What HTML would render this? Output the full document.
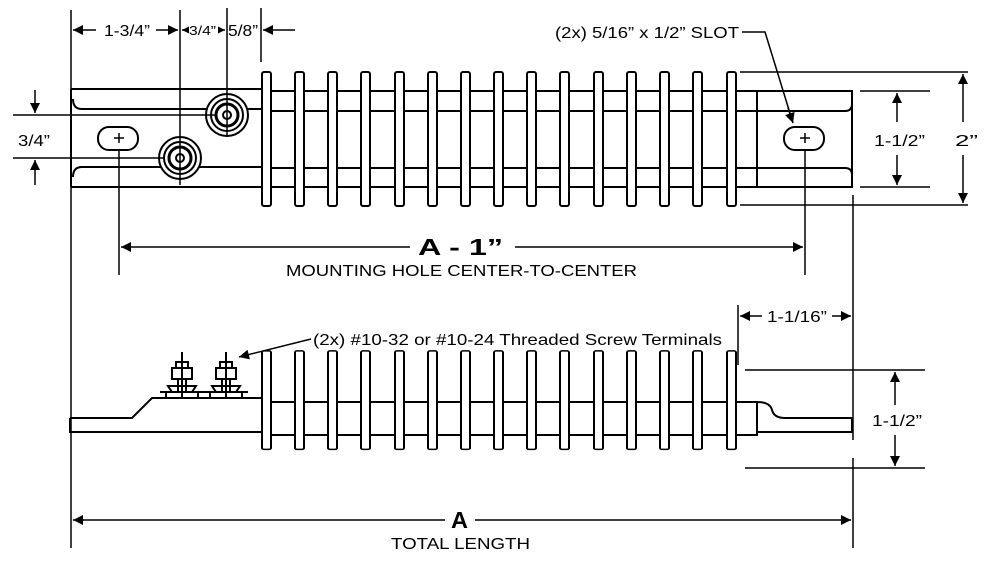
<!DOCTYPE html>
<html><head><meta charset="utf-8"><style>
html,body{margin:0;padding:0;background:#fff}
svg{display:block}
text{font-family:"Liberation Sans",Arial,sans-serif;fill:#000}
</style></head><body>
<svg width="993" height="570" viewBox="0 0 993 570" xmlns="http://www.w3.org/2000/svg">
<defs>
<marker id="a" viewBox="0 0 10 10" refX="10" refY="5" markerWidth="13" markerHeight="10" markerUnits="userSpaceOnUse" orient="auto"><path d="M0,0L10,5L0,10z"/></marker>
<marker id="s" viewBox="0 0 10 10" refX="10" refY="5" markerWidth="9" markerHeight="7" markerUnits="userSpaceOnUse" orient="auto"><path d="M0,0L10,5L0,10z"/></marker>
</defs>
<g stroke="#000" fill="none" stroke-width="2">
<path d="M71,89 H262 M71,187 H262 M71,89 V187"/>
<path d="M82,109 Q73,109 73,99 M82,109 H262 M82,167 Q73,167 73,177 M82,167 H262"/>
<path d="M736,91 H757 V187 H736 M757,91 H852 V187 H757 M757,111 H845 Q852,111 852,104 M757,168 H845 Q852,168 852,175"/>
<g id="fins">
<rect x="262" y="72" width="9" height="134" rx="2" fill="#fff"/>
<rect x="295" y="72" width="9" height="134" rx="2" fill="#fff"/>
<rect x="328" y="72" width="9" height="134" rx="2" fill="#fff"/>
<rect x="361" y="72" width="9" height="134" rx="2" fill="#fff"/>
<rect x="395" y="72" width="9" height="134" rx="2" fill="#fff"/>
<rect x="428" y="72" width="9" height="134" rx="2" fill="#fff"/>
<rect x="461" y="72" width="9" height="134" rx="2" fill="#fff"/>
<rect x="494" y="72" width="9" height="134" rx="2" fill="#fff"/>
<rect x="527" y="72" width="9" height="134" rx="2" fill="#fff"/>
<rect x="560" y="72" width="9" height="134" rx="2" fill="#fff"/>
<rect x="594" y="72" width="9" height="134" rx="2" fill="#fff"/>
<rect x="627" y="72" width="9" height="134" rx="2" fill="#fff"/>
<rect x="660" y="72" width="9" height="134" rx="2" fill="#fff"/>
<rect x="693" y="72" width="9" height="134" rx="2" fill="#fff"/>
<rect x="727" y="72" width="9" height="134" rx="2" fill="#fff"/>
</g>
<path d="M271,91H295M304,91H328M337,91H361M370,91H395M404,91H428M437,91H461M470,91H494M503,91H527M536,91H560M569,91H594M603,91H627M636,91H660M669,91H693M702,91H727"/>
<path d="M271,111H295M304,111H328M337,111H361M370,111H395M404,111H428M437,111H461M470,111H494M503,111H527M536,111H560M569,111H594M603,111H627M636,111H660M669,111H693M702,111H727M736,111H757"/>
<path d="M271,168H295M304,168H328M337,168H361M370,168H395M404,168H428M437,168H461M470,168H494M503,168H527M536,168H560M569,168H594M603,168H627M636,168H660M669,168H693M702,168H727M736,168H757"/>
<path d="M271,187H295M304,187H328M337,187H361M370,187H395M404,187H428M437,187H461M470,187H494M503,187H527M536,187H560M569,187H594M603,187H627M636,187H660M669,187H693M702,187H727"/>
<rect x="98" y="127" width="40" height="23" rx="11"/>
<rect x="784" y="127" width="40" height="23" rx="11"/>
<path d="M119,133V143M114,138H124M805,133V143M800,138H810" stroke-width="1.5"/>
<circle cx="227" cy="115" r="21" fill="#fff"/><circle cx="227" cy="115" r="16"/><circle cx="227" cy="115" r="11" stroke-width="3"/><circle cx="227" cy="115" r="4"/>
<circle cx="180" cy="158" r="21" fill="#fff"/><circle cx="180" cy="158" r="16"/><circle cx="180" cy="158" r="11" stroke-width="3"/><circle cx="180" cy="158" r="4"/>
</g>
<g stroke="#000" stroke-width="1.5" fill="none">
<path d="M71,10V548M180,10V185M227,8V135M261,8V62"/>
<path d="M96,30H73" marker-end="url(#a)"/><path d="M156,30H178" marker-end="url(#a)"/>
<path d="M188,30H182" marker-end="url(#s)"/><path d="M219,30H225" marker-end="url(#s)"/>
<path d="M295,30H263" marker-end="url(#a)"/>
<path d="M13,115H215M13,158H165"/>
<path d="M35,90V113" marker-end="url(#a)"/><path d="M35,185V160" marker-end="url(#a)"/>
<path d="M740,72H968M740,205H968M860,91H930M860,187H930"/>
<path d="M897,122V93" marker-end="url(#a)"/><path d="M897,155V185" marker-end="url(#a)"/>
<path d="M963,122V74" marker-end="url(#a)"/><path d="M963,155V203" marker-end="url(#a)"/>
<path d="M742,32H765L793,123"/><path d="M788,108L793,123" marker-end="url(#a)"/>
<path d="M119,150V275M805,150V275M853,195V440M853,458V548"/>
<path d="M410,247H121" marker-end="url(#a)"/><path d="M515,247H803" marker-end="url(#a)"/>
<path d="M738,305V365"/>
<path d="M762,316H740" marker-end="url(#a)"/><path d="M832,316H851" marker-end="url(#a)"/>
<path d="M745,370H925M745,468H925"/>
<path d="M895,405V372" marker-end="url(#a)"/><path d="M895,435V466" marker-end="url(#a)"/>
<path d="M311,339L239,357" marker-end="url(#a)"/>
<path d="M445,520H73" marker-end="url(#a)"/><path d="M475,520H851" marker-end="url(#a)"/>
</g>
<g stroke="#000" fill="none" stroke-width="2">
<path d="M70,418H132L152,398H262M70,418V432H262"/>
<path d="M736,402H757V435H736M757,402Q770,402 772,410Q774,418 785,418H852V432H757"/>
<g transform="translate(0,298) scale(1,0.735)">
<use href="#fins"/>
</g>
<path d="M271,402H295M304,402H328M337,402H361M370,402H395M404,402H428M437,402H461M470,402H494M503,402H527M536,402H560M569,402H594M603,402H627M636,402H660M669,402H693M702,402H727"/>
<path d="M271,435H295M304,435H328M337,435H361M370,435H395M404,435H428M437,435H461M470,435H494M503,435H527M536,435H560M569,435H594M603,435H627M636,435H660M669,435H693M702,435H727"/>
<g id="term">
<path d="M160,392H204M168,386H196L192,392H172Z M172,368H192V379H172Z M176,362H188V368H176Z M182,352V398M178,379V392M186,379V392M166,392V398M198,392V398"/>
</g>
<use href="#term" x="44"/>
</g>
<g font-size="16" lengthAdjust="spacingAndGlyphs">
<text x="104" y="36" textLength="46" lengthAdjust="spacingAndGlyphs">1-3/4”</text>
<text x="189" y="35" font-size="13" textLength="27" lengthAdjust="spacingAndGlyphs">3/4”</text>
<text x="228" y="36" textLength="30" lengthAdjust="spacingAndGlyphs">5/8”</text>
<text x="18" y="146" textLength="32" lengthAdjust="spacingAndGlyphs">3/4”</text>
<text x="555" y="38" textLength="184" lengthAdjust="spacingAndGlyphs">(2x) 5/16” x 1/2” SLOT</text>
<text x="874" y="146" textLength="51" lengthAdjust="spacingAndGlyphs">1-1/2”</text>
<text x="955" y="146" textLength="23" lengthAdjust="spacingAndGlyphs">2”</text>
<text x="418" y="255" font-size="23" font-weight="bold" textLength="85" lengthAdjust="spacingAndGlyphs">A - 1”</text>
<text x="286" y="276" textLength="351" lengthAdjust="spacingAndGlyphs">MOUNTING HOLE CENTER-TO-CENTER</text>
<text x="767" y="322" textLength="60" lengthAdjust="spacingAndGlyphs">1-1/16”</text>
<text x="313" y="345" textLength="409" lengthAdjust="spacingAndGlyphs">(2x) #10-32 or #10-24 Threaded Screw Terminals</text>
<text x="872" y="426" textLength="50" lengthAdjust="spacingAndGlyphs">1-1/2”</text>
<text x="451" y="528" font-size="23" font-weight="bold" textLength="17" lengthAdjust="spacingAndGlyphs">A</text>
<text x="391" y="549" textLength="139" lengthAdjust="spacingAndGlyphs">TOTAL LENGTH</text>
</g>
</svg>
</body></html>
